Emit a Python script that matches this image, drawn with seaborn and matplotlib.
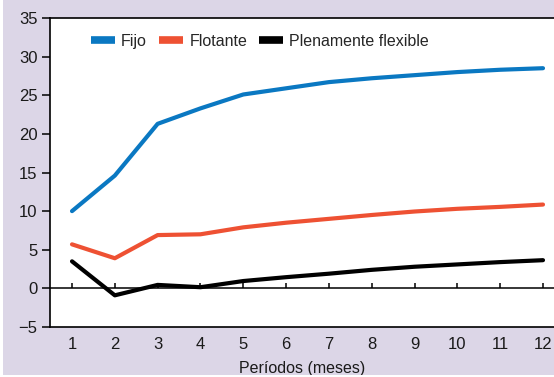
import matplotlib
matplotlib.use("Agg")
import matplotlib.pyplot as plt
import seaborn as sns
import pandas as pd
from matplotlib.patches import Rectangle

periodos = [1, 2, 3, 4, 5, 6, 7, 8, 9, 10, 11, 12]
fijo = [10.0, 14.6, 21.3, 23.3, 25.1, 25.9, 26.7, 27.2, 27.6, 28.0, 28.3, 28.5]
flotante = [5.7, 3.9, 6.9, 7.0, 7.9, 8.5, 9.0, 9.5, 9.95, 10.3, 10.55, 10.85]
flexible = [3.5, -0.9, 0.45, 0.15, 0.95, 1.45, 1.9, 2.4, 2.8, 3.1, 3.4, 3.65]
series_names = ["Fijo", "Flotante", "Plenamente flexible"]
yticks = [-5, 0, 5, 10, 15, 20, 25, 30, 35]
xlabel = "Períodos (meses)"

df = pd.concat([
    pd.DataFrame({"x": periodos, "y": vals, "serie": name})
    for name, vals in zip(series_names, [fijo, flotante, flexible])
])

sns.set_style("white")
plt.rcParams["font.family"] = ["Liberation Sans", "DejaVu Sans"]
plt.rcParams["font.size"] = 12

bg = "#DCD6E7"
fig = plt.figure(figsize=(5.54, 3.77), dpi=100, facecolor=bg)
# thin white margin on left and bottom edges as in the reference
fig.patches.append(Rectangle((0, 0), 3/554, 1, transform=fig.transFigure,
                             facecolor="white", edgecolor="none", zorder=0))
fig.patches.append(Rectangle((0, 0), 1, 2/377, transform=fig.transFigure,
                             facecolor="white", edgecolor="none", zorder=0))

ax = fig.add_axes([50/554, 1 - 327/377, 1 - 50/554, 309/377])
ax.set_facecolor("white")

palette = {"Fijo": "#0A78C2", "Flotante": "#EE5133", "Plenamente flexible": "#000000"}
sns.lineplot(data=df, x="x", y="y", hue="serie", palette=palette, linewidth=3,
             ax=ax, legend=True)

ax.axhline(0, color="black", linewidth=1.1, zorder=1)
ax.vlines(periodos, 0, 0.7, color="black", linewidth=1.1, zorder=1)

ax.set_xlim(0.486, 12.257)
ax.set_ylim(-5, 35)
ax.set_xticks(periodos)
ax.set_yticks(yticks)
ax.set_yticklabels([("\u2212" + str(-t)) if t < 0 else str(t) for t in yticks])
ax.tick_params(axis="x", length=0, pad=7, labelsize=12, colors="#1a1a1a")
ax.tick_params(axis="y", length=6, width=1.1, direction="out", left=True, pad=3,
               labelsize=12, colors="#1a1a1a")
ax.tick_params(axis="y", color="black")
ax.set_xlabel(xlabel, fontsize=11.5, color="#1a1a1a", labelpad=7)
ax.set_ylabel("")

for s in ["left", "bottom", "top"]:
    ax.spines[s].set_visible(True)
    ax.spines[s].set_color("black")
    ax.spines[s].set_linewidth(1.2)
ax.spines["right"].set_visible(False)

leg = ax.legend(loc="center left", bbox_to_anchor=(0.065, 0.925), ncol=3, frameon=False,
                borderpad=0, handlelength=1.5, handletextpad=0.4, columnspacing=0.75,
                fontsize=11.5)
for line in leg.get_lines():
    line.set_linewidth(5.5)
    line.set_solid_capstyle("butt")

fig.savefig("out.png", dpi=100, facecolor=bg)
